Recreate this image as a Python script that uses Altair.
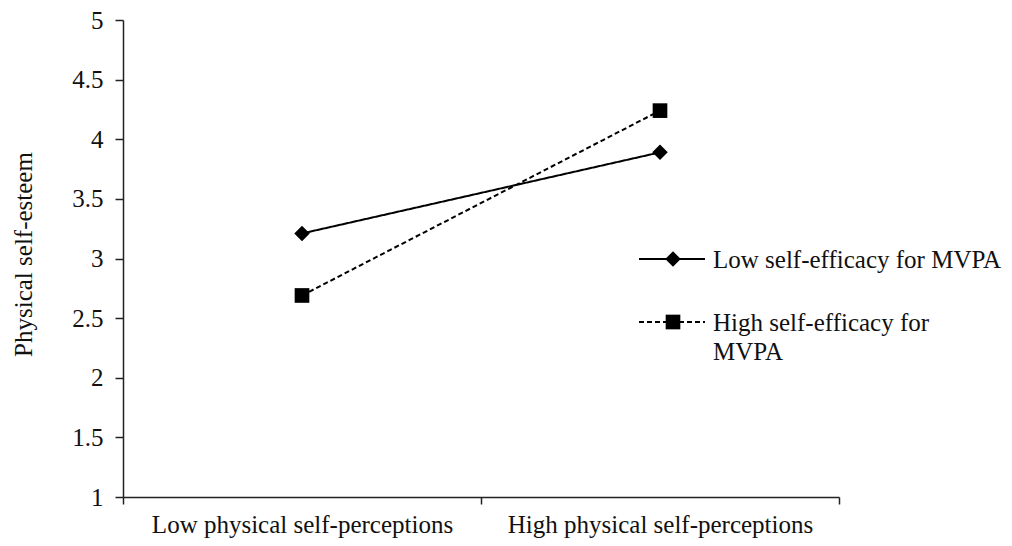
import altair as alt
import pandas as pd

conditions = ["Low physical self-perceptions", "High physical self-perceptions"]
series = ["Low self-efficacy for MVPA", "High self-efficacy for MVPA"]
low_efficacy = [3.21, 3.89]
high_efficacy = [2.69, 4.24]
legend_labels = ["Low self-efficacy for MVPA", "High self-efficacy for\nMVPA"]

rows = []
for c, v in zip(conditions, low_efficacy):
    rows.append({"condition": c, "series": series[0], "value": v})
for c, v in zip(conditions, high_efficacy):
    rows.append({"condition": c, "series": series[1], "value": v})
df = pd.DataFrame(rows)
leg = pd.DataFrame({"series": series, "label": legend_labels})

FONT = "Liberation Serif"
INK = "#111111"

dash_scale = alt.Scale(domain=series, range=[[1, 0], [5, 3]])
shape_scale = alt.Scale(domain=series, range=["diamond", "square"])
size_scale = alt.Scale(domain=series, range=[240, 215])

x_enc = alt.X(
    "condition:N",
    sort=conditions,
    bandPosition=0.5,
    scale=alt.Scale(type="band", domain=conditions, paddingInner=0, paddingOuter=0),
    axis=alt.Axis(
        title=None, tickBand="extent", tickSize=7, labelPadding=8, labelAngle=0,
        labelLimit=0, labelFontSize=25, labelFont=FONT, labelColor=INK,
        domainColor="#222", tickColor="#222", domainWidth=1.5, tickWidth=1.5,
        grid=False,
    ),
)
y_enc = alt.Y(
    "value:Q",
    scale=alt.Scale(domain=[1, 5], nice=False, zero=False),
    axis=alt.Axis(
        values=[1, 1.5, 2, 2.5, 3, 3.5, 4, 4.5, 5], format=".1~f",
        title="Physical self-esteem", titleFontSize=25, titleFont=FONT,
        titleFontWeight="normal", titleColor=INK, titleX=-100, titleY=234,
        titleAlign="center", titleBaseline="middle", titleAngle=270,
        tickSize=8, labelPadding=12, labelFontSize=25, labelFont=FONT,
        labelColor=INK, domainColor="#222", tickColor="#222",
        domainWidth=1.5, tickWidth=1.5, grid=False, orient="left",
    ),
)

base = alt.Chart(df)
lines = base.mark_line(color="black", strokeWidth=2).encode(
    x=x_enc, y=y_enc,
    strokeDash=alt.StrokeDash("series:N", scale=dash_scale, legend=None),
    detail="series:N",
)
points = base.mark_point(filled=True, color="black", opacity=1).encode(
    x=x_enc, y=y_enc,
    shape=alt.Shape("series:N", scale=shape_scale, legend=None),
    size=alt.Size("series:N", scale=size_scale, legend=None),
)
main = alt.layer(lines, points)

leg_y = alt.Y(
    "series:N", sort=series,
    scale=alt.Scale(type="point", domain=series, range=[239, 302], padding=0),
    axis=None,
)
legbase = alt.Chart(leg)
leg_rule = legbase.mark_rule(color="black", strokeWidth=2).encode(
    x=alt.value(516), x2=alt.value(582), y=leg_y,
    strokeDash=alt.StrokeDash("series:N", scale=dash_scale, legend=None),
)
leg_pt = legbase.mark_point(filled=True, color="black", opacity=1).encode(
    x=alt.value(550), y=leg_y,
    shape=alt.Shape("series:N", scale=shape_scale, legend=None),
    size=alt.Size("series:N", scale=size_scale, legend=None),
)
leg_txt = legbase.mark_text(
    align="left", baseline="alphabetic", dy=9, lineBreak="\n", lineHeight=29,
    fontSize=25, font=FONT, color=INK,
).encode(x=alt.value(590), y=leg_y, text="label:N")
legend = alt.layer(leg_rule, leg_pt, leg_txt)

chart = (
    alt.layer(main, legend)
    .resolve_scale(y="independent")
    .properties(
        width=716, height=477,
        autosize=alt.AutoSizeParams(type="none"),
        padding={"left": 115, "top": 12, "right": 165, "bottom": 41},
        background="white",
    )
    .configure_view(stroke=None)
)

chart.save("out.html", embed_options={"renderer": "svg", "actions": False})
